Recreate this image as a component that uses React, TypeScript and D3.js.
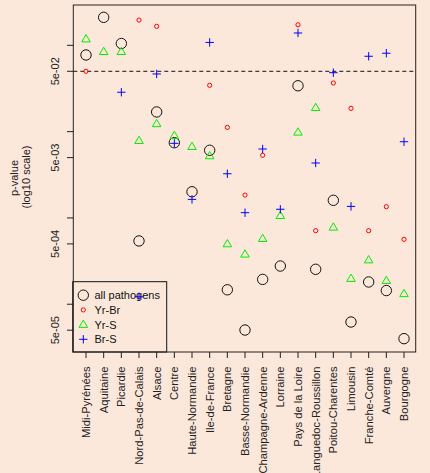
import React from 'react';
import * as d3 from 'd3';

const regions = [
  'Midi-Pyrénées', 'Aquitaine', 'Picardie', 'Nord-Pas-de-Calais', 'Alsace', 'Centre',
  'Haute-Normandie', 'Ile-de-France', 'Bretagne', 'Basse-Normandie', 'Champagne-Ardenne',
  'Lorraine', 'Pays de la Loire', 'Languedoc-Roussillon', 'Poitou-Charentes', 'Limousin',
  'Franche-Comté', 'Auvergne', 'Bourgogne'
];

// p-values per region; null = not shown
const allPathogens = [0.0773, 0.211, 0.105, 5.41e-4, 0.0169, 0.00744, 0.00201, 0.00608, 1.47e-4,
  5.02e-5, 1.94e-4, 2.77e-4, 0.034, 2.54e-4, 0.0016, 6.22e-5, 1.81e-4, 1.44e-4, 3.99e-5];
const yrBr = [0.05, null, null, 0.196, 0.166, null, null, 0.0344, 0.0112,
  0.00184, 0.00532, null, 0.173, 7.11e-4, 0.0366, 0.0186, 7.11e-4, 0.00135, 5.65e-4];
const yrS = [0.118, 0.0843, 0.0843, 0.00785, 0.0123, 0.00897, 0.00669, 0.00522, 4.99e-4,
  3.79e-4, 5.74e-4, 0.00106, 0.00982, 0.0189, 7.78e-4, 1.98e-4, 3.25e-4, 1.87e-4, 1.32e-4];
const brS = [null, 0.34, 0.0286, 1.22e-4, 0.0466, 0.00732, 0.00164, 0.108, 0.00325,
  0.00115, 0.00629, 0.00126, 0.139, 0.00433, 0.0482, 0.00136, 0.0747, 0.081, 0.00764];

const majorTicks = [5e-2, 5e-3, 5e-4, 5e-5];
const minorTicks = [1e-1, 1e-2, 1e-3, 1e-4];
const tickLabels = ['5e-02', '5e-03', '5e-04', '5e-05'];
const threshold = 0.05;

const legendItems = ['all pathogens', 'Yr-Br', 'Yr-S', 'Br-S'];

const W = 430;
const H = 473;
const plot = { left: 73.3, right: 415.7, top: 5, bottom: 352 };
const font = '"Liberation Sans", Arial, Helvetica, sans-serif';
const bg = '#fce8da';

function Symbol({ kind, x, y }: { kind: number; x: number; y: number }) {
  if (kind === 0) return <circle cx={x} cy={y} r={5.2} fill="none" stroke="#111" strokeWidth={1} />;
  if (kind === 1) return <circle cx={x} cy={y} r={2.1} fill="none" stroke="#ff0000" strokeWidth={1} />;
  if (kind === 2) {
    const s = 4.3;
    return (
      <path
        d={`M${x},${y - s * 1.05}L${x + s},${y + s * 0.65}L${x - s},${y + s * 0.65}Z`}
        fill="none" stroke="#00ee00" strokeWidth={1}
      />
    );
  }
  const a = 4.2;
  return (
    <path d={`M${x - a},${y}H${x + a}M${x},${y - a}V${y + a}`} stroke="#0000ff" strokeWidth={1} fill="none" />
  );
}

export default function App() {
  const x = d3.scaleLinear().domain([0, regions.length - 1])
    .range([86, 404]);
  const y = d3.scaleLog().domain([2.795e-5, 0.2933]).range([plot.bottom, plot.top]);

  const series = [allPathogens, yrBr, yrS, brS];

  return (
    <svg width={W} height={H} style={{ position: 'absolute', left: 0, top: 0 }} fontFamily={font}>
      <defs>
        <clipPath id="plotClip">
          <rect x={plot.left} y={plot.top} width={plot.right - plot.left} height={plot.bottom - plot.top} />
        </clipPath>
      </defs>
      <rect x={0} y={0} width={W} height={H} fill={bg} />

      {/* threshold line */}
      <line x1={plot.left} x2={plot.right} y1={y(threshold)} y2={y(threshold)}
        stroke="#111" strokeDasharray="4,3" strokeWidth={1} />

      {/* legend box */}
      <rect x={72.7} y={281.7} width={94} height={plot.bottom - 281.7} fill="none" stroke="#111" strokeWidth={1} />
      {legendItems.map((name, i) => {
        const ly = 295.2 + i * 14.7;
        return (
          <g key={name}>
            <Symbol kind={i} x={83.3} y={ly} />
            <text x={94.5} y={ly + 4} fontSize={11} fill="#111">{name}</text>
          </g>
        );
      })}

      {/* points */}
      <g clipPath="url(#plotClip)">
        {series.map((vals, k) => (
          <g key={k}>
            {vals.map((v, i) => (v == null ? null : <Symbol key={i} kind={k} x={x(i)} y={y(v)} />))}
          </g>
        ))}
      </g>

      {/* plot box */}
      <rect x={plot.left} y={plot.top} width={plot.right - plot.left} height={plot.bottom - plot.top}
        fill="none" stroke="#222" strokeWidth={1} />

      {/* y axis */}
      {[...majorTicks, ...minorTicks].map((t) => (
        <line key={t} x1={plot.left} x2={plot.left - 6.3} y1={y(t)} y2={y(t)} stroke="#222" />
      ))}
      {majorTicks.map((t, i) => (
        <text key={t} transform={`translate(58.5,${y(t)}) rotate(-90)`} textAnchor="middle"
          fontSize={11} fill="#222">{tickLabels[i]}</text>
      ))}
      <text transform="translate(17.5,178) rotate(-90)" textAnchor="middle" fontSize={11} fill="#222">p-value</text>
      <text transform="translate(30,177) rotate(-90)" textAnchor="middle" fontSize={11} fill="#222">(log10 scale)</text>

      {/* x axis */}
      {regions.map((r, i) => (
        <g key={r}>
          <line x1={x(i)} x2={x(i)} y1={plot.bottom} y2={plot.bottom + 6} stroke="#222" />
          <text transform={`translate(${x(i) + 4},366.5) rotate(-90)`} textAnchor="end"
            fontSize={11.2} fill="#222">{r}</text>
        </g>
      ))}
    </svg>
  );
}
